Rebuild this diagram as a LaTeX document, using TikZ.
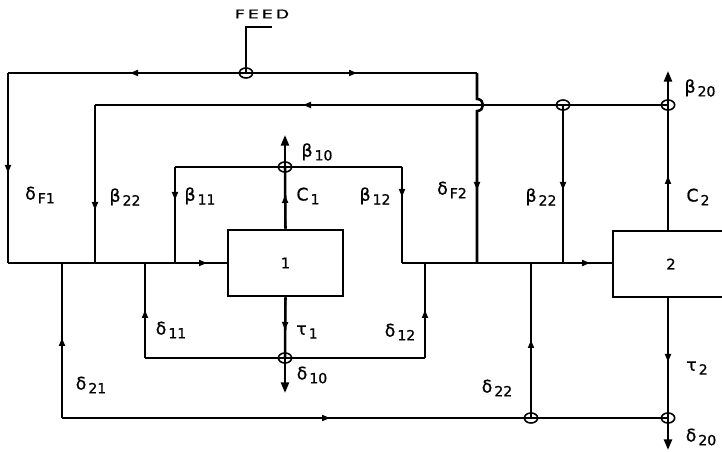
\documentclass[tikz,border=0pt]{standalone}
\usepackage{fontspec}
\setmainfont{DejaVu Sans}
\newfontfamily\labfont[FakeBold=0.8]{DejaVu Sans}
\newfontfamily\feedfont[FakeStretch=1.45,LetterSpace=25,FakeBold=0.8]{DejaVu Sans}
\usetikzlibrary{arrows.meta,shapes.geometric}
\newcommand{\lb}[2]{#1\hspace{1.5pt}\raisebox{-0.4ex}{\fontsize{10.5}{12}\selectfont #2}}
\begin{document}
\begin{tikzpicture}[x=0.75pt,y=-0.75pt,
 ln/.style={line width=1.3pt},
 vl/.style={line width=1.9pt},
 arr/.style={-{Triangle[length=6pt,width=4.5pt]}, line width=1.3pt},
 endarr/.style={-{Triangle[length=8pt,width=6pt]}, line width=1.9pt},
 jc/.style={ellipse,draw,line width=1.2pt,minimum width=10pt,minimum height=7.5pt,inner sep=0pt},
 unit/.style={draw,line width=1.9pt,minimum width=86.25pt,minimum height=49.5pt,inner sep=0pt,font=\labfont\fontsize{11}{13}\selectfont},
 lab/.style={font=\labfont\fontsize{13}{15}\selectfont,inner sep=0pt}]
\useasboundingbox (0,0) rectangle (722,452);
\clip (0,0) rectangle (722,452);

% units
\node[unit] (u1) at (285.5,263) {1};
\node[unit,minimum width=87pt] (u2) at (671,264) {2};

% junction circles
\node[jc] (cF) at (246,73) {};
\node[jc] (c22) at (563,105) {};
\node[jc] (c20) at (668,105) {};
\node[jc] (c10) at (285,167) {};
\node[jc] (c1b) at (285,358) {};
\node[jc] (c2b) at (531,418) {};
\node[jc] (c20b) at (668,418) {};

% coordinates
\coordinate (feedEnd) at (272,27);
\coordinate (feedCorner) at (246,27);
\coordinate (tl) at (8,73);
\coordinate (tr) at (477,73);
\coordinate (bl) at (8,263);
\coordinate (jL21) at (62,263);
\coordinate (jL22) at (95,263);
\coordinate (jL11) at (145,263);
\coordinate (jL12) at (175,263);
\coordinate (b22L) at (95,105);
\coordinate (b11tl) at (175,167);
\coordinate (b12tr) at (402,167);
\coordinate (jR12) at (402,263);
\coordinate (jRd12) at (425,263);
\coordinate (jRF2) at (477,263);
\coordinate (jR22) at (531,263);
\coordinate (jRb22) at (563,263);
\coordinate (u2in) at (613,263);
\coordinate (d12br) at (425,358);
\coordinate (d11bl) at (145,358);
\coordinate (d21bl) at (62,418);
\coordinate (u2top) at (668,231);
\coordinate (u2bot) at (668,297);
\coordinate (b10end) at (285,135);
\coordinate (d10end) at (285,393);
\coordinate (b20end) at (668,71);
\coordinate (d20end) at (668,450);

% feed and top recycle
\draw[vl] (feedEnd) -- (feedCorner) -- (cF.center);
\draw[ln] (tl) -- (tr);
\draw[arr] (cF.center) -- (130,73);
\draw[arr] (cF.center) -- (357,73);
\draw[vl] (tl) -- (bl);
\draw[arr] (tl) -- (8,173);
\draw[vl] (tr) -- (477,99) .. controls (485,99) and (485,111) .. (477,111) -- (jRF2);
\draw[arr] (477,111) -- (477,190);

% left flow into unit 1
\draw[ln] (bl) -- (u1.west);
\draw[arr] (bl) -- (207,263);

% beta22 recycle
\draw[ln] (c20.center) -- (b22L);
\draw[arr] (c22.center) -- (303,105);
\draw[vl] (b22L) -- (jL22);
\draw[arr] (b22L) -- (95,210);

% beta11 / beta12 loop
\draw[vl] (jL12) -- (b11tl);
\draw[ln] (b11tl) -- (b12tr);
\draw[vl] (b12tr) -- (jR12);
\draw[arr] (b11tl) -- (175,200);
\draw[arr] (b12tr) -- (402,197);

% C1 and beta10
\draw[vl] (u1.north) -- (c10.center);
\draw[arr] (u1.north) -- (285,195);
\draw[endarr] (c10.center) -- (b10end);

% right flow into unit 2
\draw[ln] (jR12) -- (u2in);
\draw[arr] (jR12) -- (590,263);
\draw[vl] (c22.center) -- (jRb22);
\draw[arr] (c22.center) -- (563,190);

% C2 and beta20
\draw[vl] (u2top) -- (c20.center);
\draw[arr] (u2top) -- (668,176);
\draw[endarr] (c20.center) -- (b20end);

% delta11 / delta12 loop
\draw[vl] (d12br) -- (jRd12);
\draw[ln] (d12br) -- (d11bl);
\draw[vl] (d11bl) -- (jL11);
\draw[arr] (d12br) -- (425,310);
\draw[arr] (d11bl) -- (145,310);

% T1 and delta10
\draw[vl] (u1.south) -- (c1b.center);
\draw[arr] (u1.south) -- (285,330);
\draw[endarr] (c1b.center) -- (d10end);

% delta21 / delta22
\draw[vl] (jL21) -- (d21bl);
\draw[ln] (d21bl) -- (c20b.center);
\draw[arr] (d21bl) -- (62,338);
\draw[arr] (d21bl) -- (330,418);
\draw[vl] (c2b.center) -- (jR22);
\draw[arr] (c2b.center) -- (531,340);

% T2 and delta20
\draw[vl] (u2bot) -- (c20b.center);
\draw[arr] (u2bot) -- (668,362);
\draw[endarr] (c20b.center) -- (d20end);

% labels
\node[inner sep=0pt,font=\feedfont\fontsize{9}{11}\selectfont] (feed) at (262,14) {FEED};
\node[lab] (lF1) at (40,195) {\lb{δ}{F1}};
\node[lab] (lb22a) at (125,197) {\lb{β}{22}};
\node[lab] (lb11) at (200,196) {\lb{β}{11}};
\node[lab] (lc1) at (308,196) {\lb{C}{1}};
\node[lab] (lb10) at (317,152) {\lb{β}{10}};
\node[lab] (lb12) at (375,196) {\lb{β}{12}};
\node[lab] (lF2) at (452,190) {\lb{δ}{F2}};
\node[lab] (lb22b) at (541,197) {\lb{β}{22}};
\node[lab] (lc2) at (698,197) {\lb{C}{2}};
\node[lab] (lb20) at (700,88) {\lb{β}{20}};
\node[lab] (ld11) at (171,330) {\lb{δ}{11}};
\node[lab] (lt1) at (307,332) {\lb{τ}{1}};
\node[lab] (ld12) at (400,332) {\lb{δ}{12}};
\node[lab] (ld10) at (312,375) {\lb{δ}{10}};
\node[lab] (ld21) at (91,385) {\lb{δ}{21}};
\node[lab] (ld22) at (497,388) {\lb{δ}{22}};
\node[lab] (lt2) at (697,368) {\lb{τ}{2}};
\node[lab] (ld20) at (701,437) {\lb{δ}{20}};
\end{tikzpicture}
\end{document}
